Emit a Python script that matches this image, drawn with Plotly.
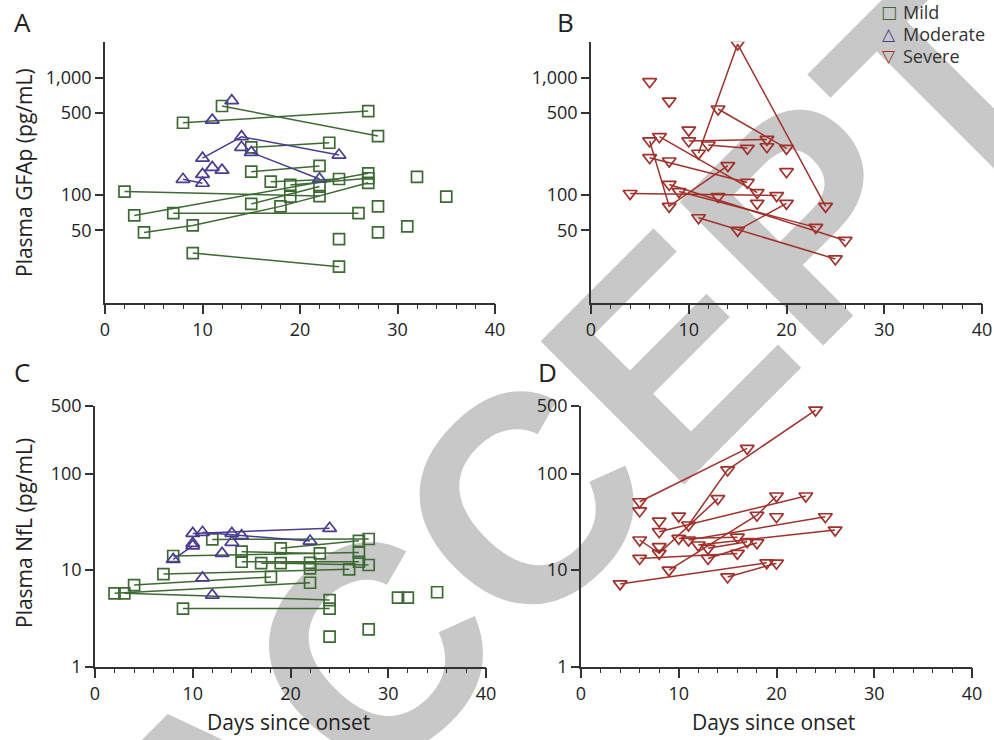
import plotly.graph_objects as go

# ---------------- data (days since onset, plasma level pg/mL) ----------------
# Panel A: GFAp, mild patients (each inner list = one patient's samples)
A_MILD_DAYS = [[2, 22], [3, 27], [4, 9, 18, 27], [7, 26], [9, 24], [8, 27], [12, 28],
               [15, 23], [15, 22], [17, 24], [19, 27], [15, 22],
               [19], [24], [28], [28], [31], [32], [35]]
A_MILD_VALS = [[107, 98], [67, 153], [48, 55, 80, 127], [70, 70], [32, 24.5], [413, 520], [574, 318],
               [255, 279], [158, 177], [130, 137], [122, 139], [84, 118],
               [97], [42], [80], [48], [54], [143], [97]]
# Panel A: GFAp, moderate patients
A_MOD_DAYS = [[10, 14, 24], [15, 22], [8, 10], [13], [11], [14], [11], [12], [10]]
A_MOD_VALS = [[206, 314, 219], [231, 137], [136, 126], [637], [435], [255], [172], [163], [150]]
# Panel B: GFAp, severe patients
B_SEV_DAYS = [[11, 15, 24], [13, 20], [6, 8, 14], [6, 16], [7, 17], [10, 18], [12, 16],
              [4, 19], [9, 23], [8, 26], [11, 25], [15, 20],
              [6], [8], [10], [18], [20], [8], [13], [17]]
B_SEV_VALS = [[227, 1936, 80], [541, 250], [289, 80, 178], [208, 128], [314, 105], [289, 298], [267, 250],
              [103, 99], [107, 53], [123, 41], [64, 28.5], [50, 85],
              [925], [632], [358], [258], [158], [195], [97], [85]]
# Panel C: NfL, mild patients
C_MILD_DAYS = [[2, 22], [3, 24], [4, 18], [7, 26], [9, 24], [8, 27], [12, 28], [15, 23],
               [15, 27], [19, 27], [17, 22], [19, 28], [22], [24], [28], [31], [32], [35]]
C_MILD_VALS = [[5.75, 7.4], [5.75, 4.9], [7.0, 8.5], [9.1, 10.2], [4.0, 4.0], [14, 15.2], [20.8, 21], [15.5, 14.9],
               [12.2, 12.2], [16.8, 20.1], [11.8, 11.9], [11.8, 11.3], [10.4], [2.05], [2.44], [5.2], [5.2], [5.9]]
# Panel C: NfL, moderate patients
C_MOD_DAYS = [[10, 24], [11, 15, 22], [8, 10], [14], [10], [14], [13], [11], [12]]
C_MOD_VALS = [[24, 27.1], [24.6, 22.7, 20], [12.9, 17.8], [24], [18.9], [19.4], [14.9], [8.3], [5.5]]
# Panel D: NfL, severe patients
D_SEV_DAYS = [[6, 17], [11, 15, 24], [6, 8, 14], [9, 18, 20], [8, 23], [11, 25], [12, 26], [6, 16],
              [4, 19], [15, 20], [13, 17], [10, 16], [13, 18], [6], [20], [10], [8], [8]]
D_SEV_VALS = [[51, 182], [29.3, 109, 454], [20.5, 14.9, 55], [10, 37, 58.5], [25, 58.5], [20.5, 35.7],
              [18.2, 26], [13.2, 14.9], [7.2, 11.9], [8.5, 11.8], [16.8, 19.7], [21.3, 21.9], [13.2, 19.2],
              [41], [35.7], [36.3], [32.2], [17.5]]

GROUPS = ["Mild", "Moderate", "Severe"]
LEGEND_GLYPHS = {"Mild": "\u25a1", "Moderate": "\u25b3", "Severe": "\u25bd"}
GFAP_TICKS = [50, 100, 500, 1000]
GFAP_TICKTEXT = ["50", "100", "500", "1,000"]
NFL_TICKS = [1, 10, 100, 500]
NFL_TICKTEXT = ["1", "10", "100", "500"]
DAY_TICKS = [0, 10, 20, 30, 40]

# ---------------- styling ----------------
COL = {"Mild": "#3d6a33", "Moderate": "#4a3c92", "Severe": "#a2302a"}
SYM = {"Mild": "square-open", "Moderate": "triangle-up-open", "Severe": "triangle-down-open"}
SIZE = {"Mild": 11, "Moderate": 12, "Severe": 12}
FONT = "Open Sans"
AX = "#333333"
TICK_SIZE = 18
TITLE_SIZE = 21


def flatten(days, vals):
    xs, ys = [], []
    for d, v in zip(days, vals):
        xs += list(d) + [None]
        ys += list(v) + [None]
    return xs, ys


fig = go.Figure()


def add(days, vals, group, xa, ya):
    xs, ys = flatten(days, vals)
    fig.add_trace(go.Scatter(
        x=xs, y=ys, xaxis=xa, yaxis=ya, mode="lines+markers", showlegend=False,
        connectgaps=False, hoverinfo="skip",
        line=dict(color=COL[group], width=1.5),
        marker=dict(symbol=SYM[group], size=SIZE[group], color=COL[group],
                    line=dict(width=1.7, color=COL[group]))))


add(A_MILD_DAYS, A_MILD_VALS, "Mild", "x", "y")
add(A_MOD_DAYS, A_MOD_VALS, "Moderate", "x", "y")
add(B_SEV_DAYS, B_SEV_VALS, "Severe", "x2", "y2")
add(C_MILD_DAYS, C_MILD_VALS, "Mild", "x3", "y3")
add(C_MOD_DAYS, C_MOD_VALS, "Moderate", "x3", "y3")
add(D_SEV_DAYS, D_SEV_VALS, "Severe", "x4", "y4")

W, H = 994, 740


def px_x(p):
    return p / W


def px_y(p):
    return 1 - p / H


def xaxis(x0, x1, anchor):
    return dict(domain=[px_x(x0), px_x(x1)], anchor=anchor, range=[0, 40],
                tickvals=DAY_TICKS, ticks="outside", ticklen=10, tickwidth=1.5,
                tickcolor=AX, showline=True, linecolor=AX, linewidth=1.5,
                showgrid=False, zeroline=False, automargin=False,
                minor=dict(dtick=2, tick0=0, ticks="outside", ticklen=5, tickwidth=1.3,
                           tickcolor=AX, showgrid=False),
                tickfont=dict(family=FONT, size=TICK_SIZE, color="#222"))


def yaxis(top, bottom, anchor, rng, tv, tt):
    return dict(domain=[px_y(bottom), px_y(top)], anchor=anchor, type="log", range=rng,
                tickvals=tv, ticktext=tt, ticks="outside", ticklen=8, tickwidth=1.5,
                tickcolor=AX, showline=True, linecolor=AX, linewidth=1.5,
                showgrid=False, zeroline=False, automargin=False,
                tickfont=dict(family=FONT, size=TICK_SIZE, color="#222"))


GF_RANGE = [1.082, 3.307]
NF_RANGE = [0, 2.699]

fig.update_layout(
    width=W, height=H, autosize=False, showlegend=False,
    margin=dict(l=0, r=0, t=0, b=0, pad=0, autoexpand=False),
    paper_bgcolor="white", plot_bgcolor="rgba(0,0,0,0)",
    font=dict(family=FONT, color="#222"),
    xaxis=xaxis(105, 495, "y"),
    yaxis=yaxis(41.7, 302.7, "x", GF_RANGE, GFAP_TICKS, GFAP_TICKTEXT),
    xaxis2=xaxis(591, 982, "y2"),
    yaxis2=yaxis(41.7, 302.7, "x2", GF_RANGE, GFAP_TICKS, GFAP_TICKTEXT),
    xaxis3=xaxis(95, 486, "y3"),
    yaxis3=yaxis(406, 666.7, "x3", NF_RANGE, NFL_TICKS, NFL_TICKTEXT),
    xaxis4=xaxis(581, 972, "y4"),
    yaxis4=yaxis(406, 666.7, "x4", NF_RANGE, NFL_TICKS, NFL_TICKTEXT),
    shapes=[dict(type="line", xref="paper", yref="paper",
                 x0=px_x(700 - 600), y0=px_y(285 + 600), x1=px_x(700 + 600), y1=px_y(285 - 600),
                 line=dict(width=1, color="rgba(0,0,0,0)"), layer="below",
                 label=dict(text="ACCEPTED", textposition="middle", xanchor="center", yanchor="middle",
                            font=dict(family="Liberation Sans", size=295, color="#c8c8c8", weight="bold")))],
)

ann = []
for txt, x, y in [("A", 22, 22), ("B", 565, 22), ("C", 22, 372), ("D", 547, 372)]:
    ann.append(dict(text=txt, x=px_x(x), y=px_y(y), xref="paper", yref="paper", showarrow=False,
                    xanchor="center", yanchor="middle", font=dict(family=FONT, size=26, color="#222")))
ann.append(dict(text="Plasma GFAp (pg/mL)", x=px_x(24), y=px_y(173), xref="paper", yref="paper",
                showarrow=False, textangle=-90, xanchor="center", yanchor="middle",
                font=dict(family=FONT, size=TITLE_SIZE, color="#222")))
ann.append(dict(text="Plasma NfL (pg/mL)", x=px_x(24), y=px_y(533), xref="paper", yref="paper",
                showarrow=False, textangle=-90, xanchor="center", yanchor="middle",
                font=dict(family=FONT, size=TITLE_SIZE, color="#222")))
for cx in (288, 773):
    ann.append(dict(text="Days since onset", x=px_x(cx), y=px_y(722), xref="paper", yref="paper",
                    showarrow=False, xanchor="center", yanchor="middle",
                    font=dict(family=FONT, size=TITLE_SIZE, color="#222")))
# legend (symbol + label)
for i, g in enumerate(GROUPS):
    yy = 12 + 22 * i
    ann.append(dict(text=LEGEND_GLYPHS[g], x=px_x(889), y=px_y(yy), xref="paper", yref="paper",
                    showarrow=False, xanchor="center", yanchor="middle",
                    font=dict(family="DejaVu Sans", size=17, color=COL[g])))
    ann.append(dict(text=g, x=px_x(901), y=px_y(yy), xref="paper", yref="paper",
                    showarrow=False, xanchor="left", yanchor="middle",
                    font=dict(family=FONT, size=18, color="#333")))
fig.update_layout(annotations=ann)

fig.write_html("out.html", config={"displayModeBar": False},
               post_script="document.body.style.margin='0px';")
